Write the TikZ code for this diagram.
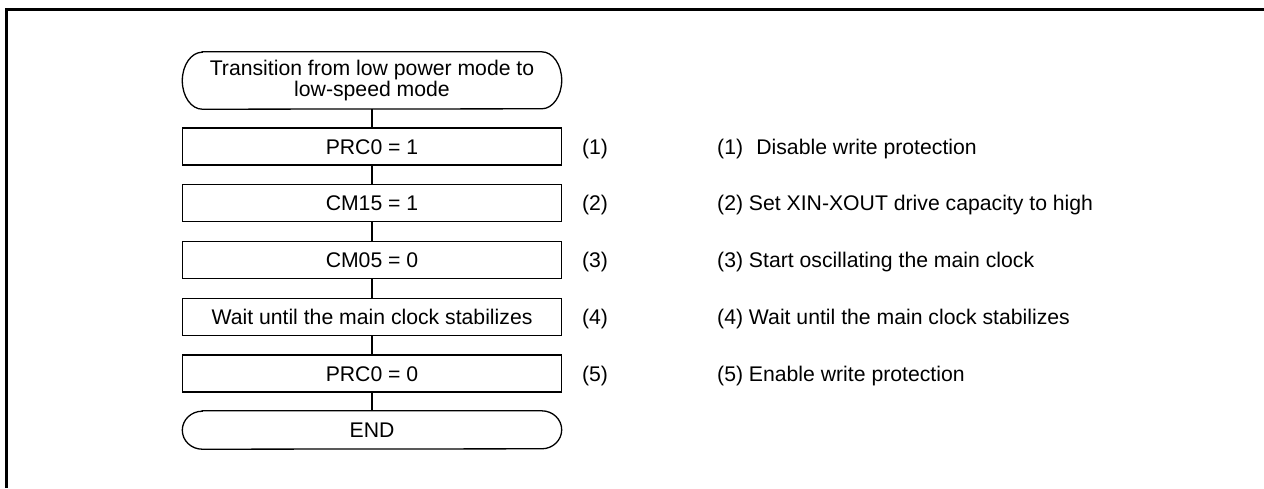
\documentclass[tikz,border=0pt]{standalone}
\usepackage{fontspec}
\setmainfont{Liberation Sans}
\begin{document}
\begin{tikzpicture}[x=1pt,y=-1pt,
  every node/.style={font=\fontsize{21.2}{20.7}\selectfont},
  stepbox/.style={draw, line width=1.3pt, minimum width=379pt, minimum height=37pt,
    inner sep=0pt, text height=15.2pt, text depth=0pt},
  termnode/.style={draw=none, minimum width=379pt, inner sep=0pt, align=center},
  termline/.style={line width=1.3pt},
  lbl/.style={inner sep=0pt, text height=15.2pt, text depth=0pt},
  desc/.style={inner sep=0pt, text height=15.2pt, text depth=0pt, anchor=west},
  conn/.style={line width=1.3pt}]
\useasboundingbox (0,0) rectangle (1264,488);
% frame
\draw[line width=3pt, line join=miter] (6.5,488) -- (6.5,9.5) -- (1264,9.5);
% start terminator
\node[termnode, minimum height=57pt] (start) at (372,80.5) {Transition from low power mode to\\low-speed mode};
\draw[termline] ([xshift=20pt]start.north west) -- ([xshift=-20pt]start.north east)
  arc[start angle=90, end angle=-90, x radius=20pt, y radius=28.5pt]
  -- ([xshift=20pt]start.south west)
  arc[start angle=270, end angle=90, x radius=20pt, y radius=28.5pt] -- cycle;
% steps
\node[stepbox] (s1) at (372,146.5) {PRC0 = 1};
\node[stepbox] (s2) at (372,203.25) {CM15 = 1};
\node[stepbox] (s3) at (372,260) {CM05 = 0};
\node[stepbox] (s4) at (372,316.75) {Wait until the main clock stabilizes};
\node[stepbox] (s5) at (372,373.5) {PRC0 = 0};
% end terminator
\node[termnode, minimum height=38pt, text height=15.2pt, text depth=0pt] (fin) at (372,430) {END};
\draw[termline] ([xshift=20pt]fin.north west) -- ([xshift=-20pt]fin.north east)
  arc[start angle=90, end angle=-90, x radius=20pt, y radius=19pt]
  -- ([xshift=20pt]fin.south west)
  arc[start angle=270, end angle=90, x radius=20pt, y radius=19pt] -- cycle;
% connectors
\draw[conn] (start) -- (s1);
\draw[conn] (s1) -- (s2);
\draw[conn] (s2) -- (s3);
\draw[conn] (s3) -- (s4);
\draw[conn] (s4) -- (s5);
\draw[conn] (s5) -- (fin);
% step labels
\node[lbl] (l1) at (595,146.5) {(1)};
\node[lbl] (l2) at (595,203.25) {(2)};
\node[lbl] (l3) at (595,260) {(3)};
\node[lbl] (l4) at (595,316.75) {(4)};
\node[lbl] (l5) at (595,373.5) {(5)};
% descriptions
\node[desc] (d1) at (717,146.5) {(1)\ \hspace{7.4pt}Disable write protection};
\node[desc] (d2) at (717,203.25) {(2) Set XIN-XOUT drive capacity to high};
\node[desc] (d3) at (717,260) {(3) Start oscillating the main clock};
\node[desc] (d4) at (717,316.75) {(4) Wait until the main clock stabilizes};
\node[desc] (d5) at (717,373.5) {(5) Enable write protection};
\end{tikzpicture}
\end{document}
